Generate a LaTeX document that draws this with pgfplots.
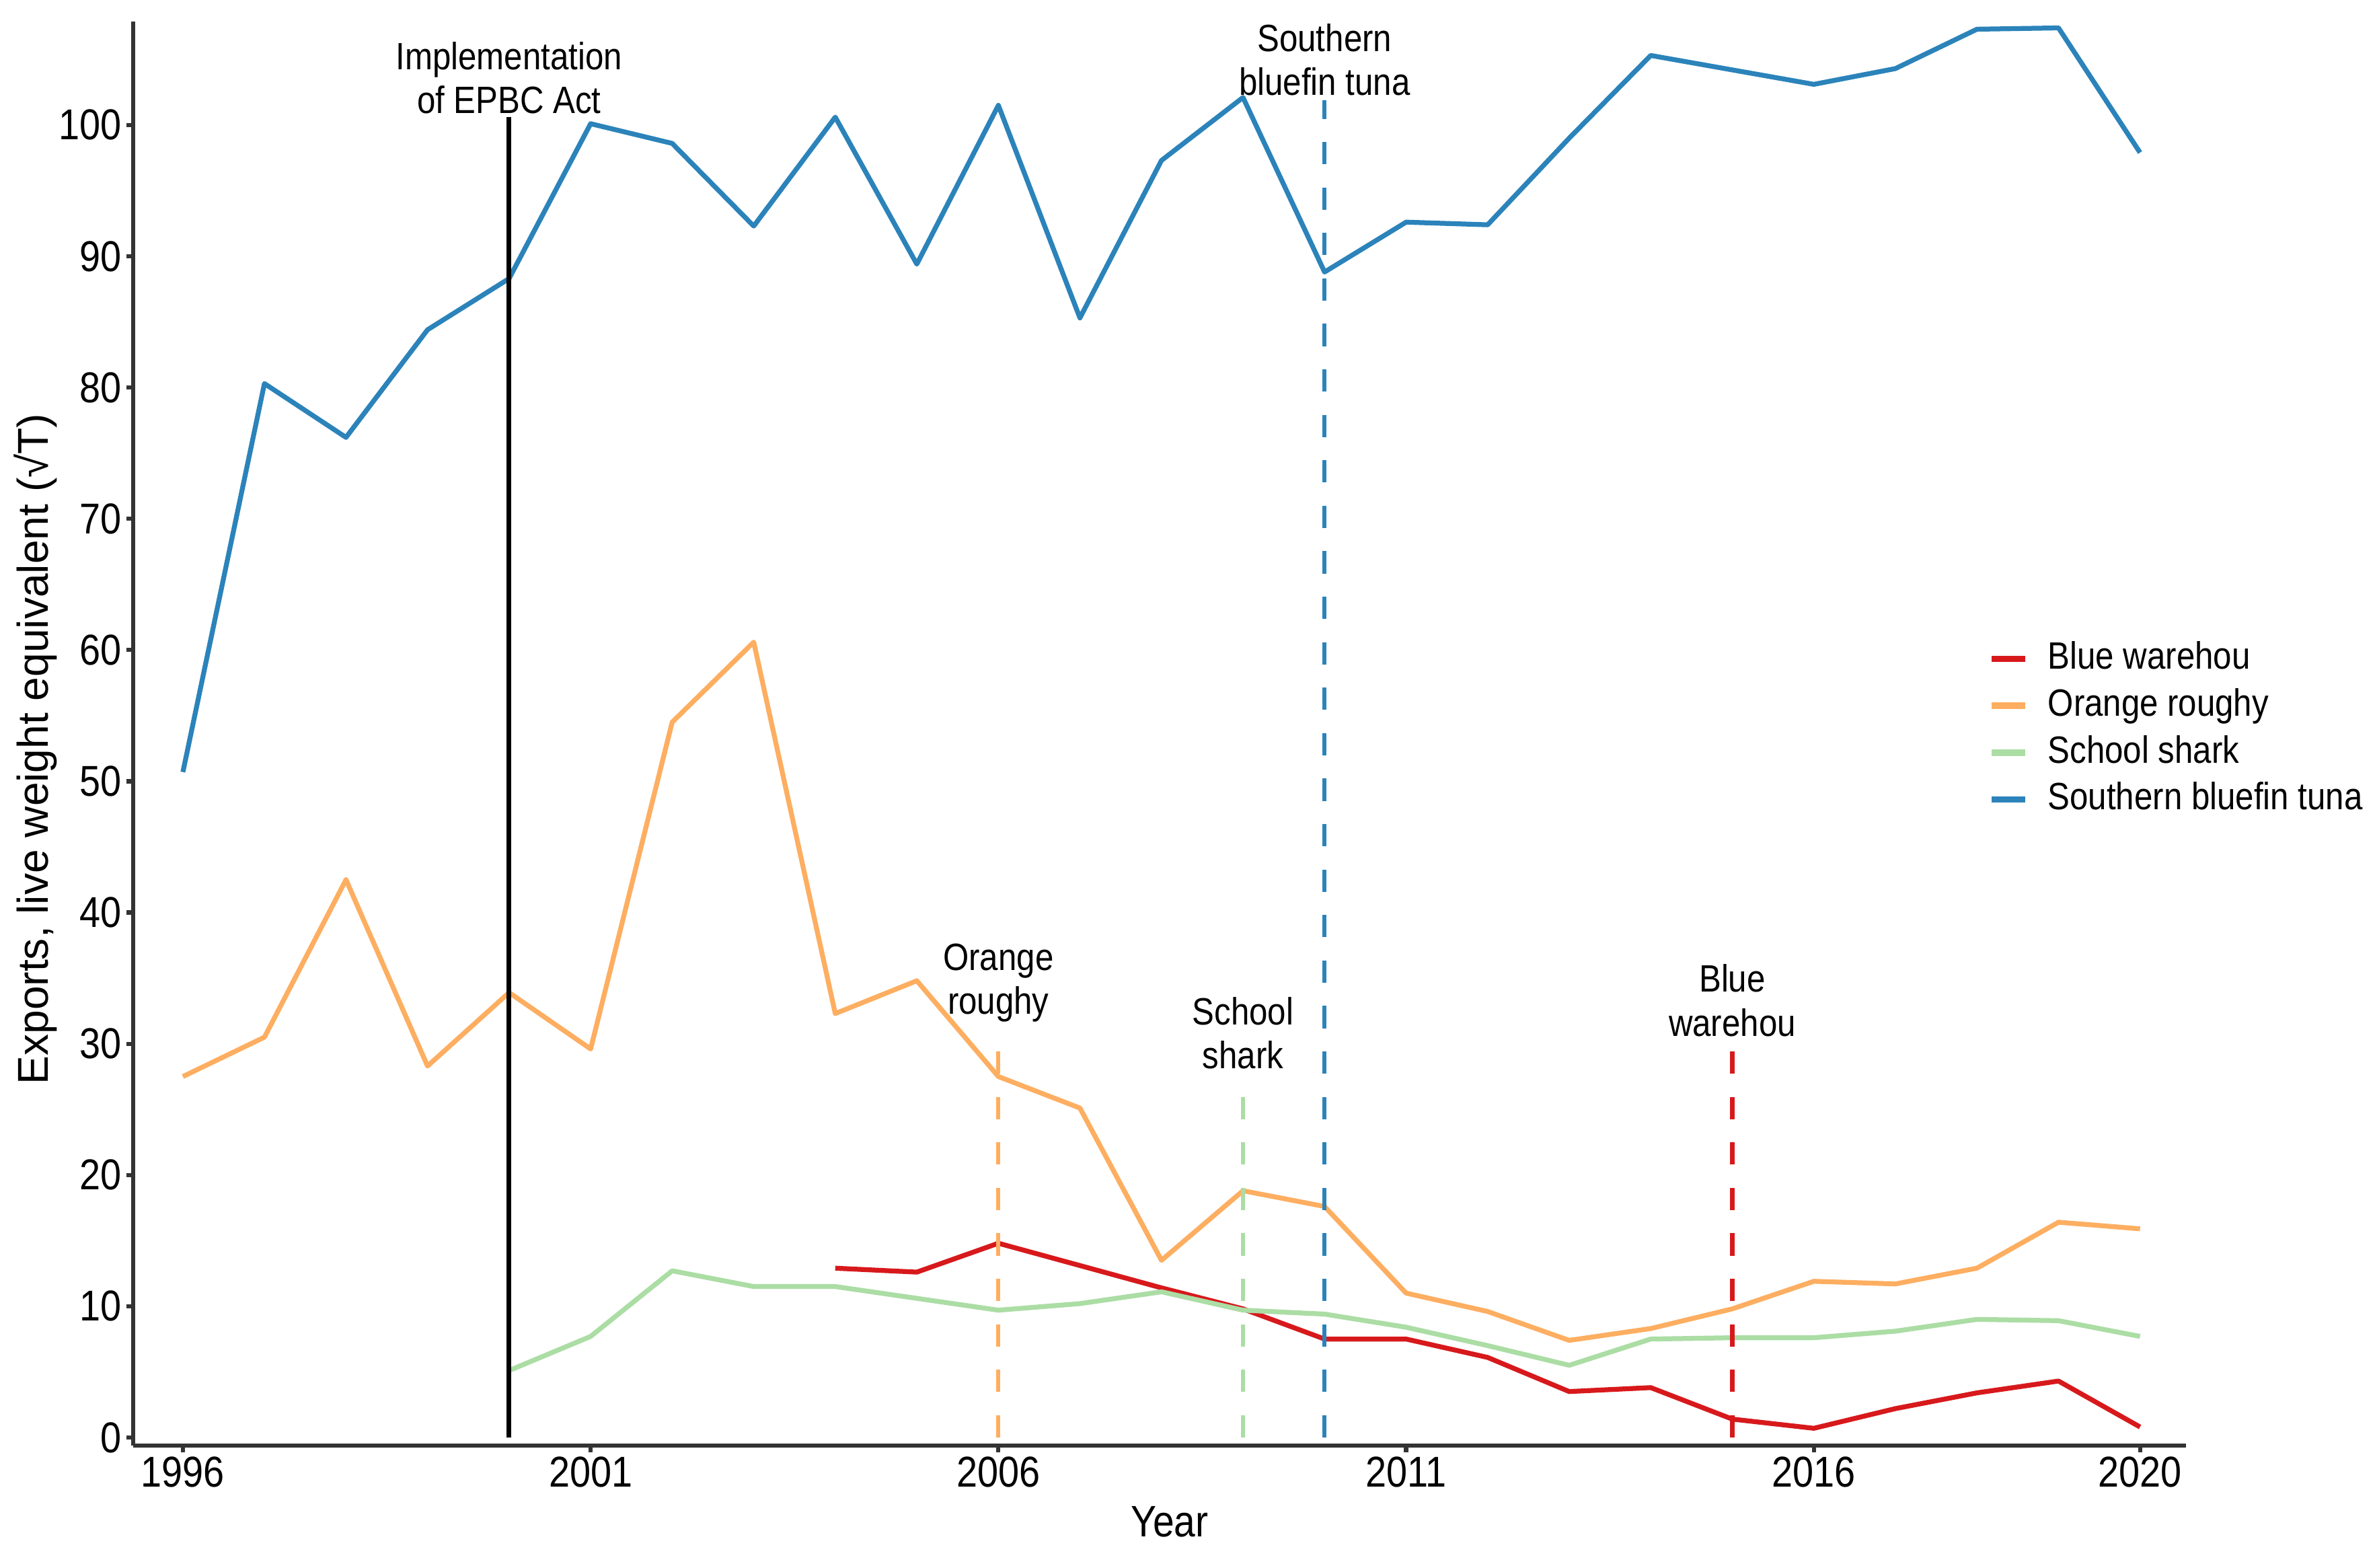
\documentclass[border=0pt]{standalone}
\usepackage{pgfplots}
\pgfplotsset{compat=1.18}
\usepackage{fontspec}
\setmainfont{Liberation Sans}[FakeStretch=0.87]
\newfontfamily\ylabfont{Liberation Sans}

\definecolor{cRed}{HTML}{D7191C}
\definecolor{cOrange}{HTML}{FDAE61}
\definecolor{cGreen}{HTML}{ABDDA4}
\definecolor{cBlue}{HTML}{2B83BA}
\definecolor{axgray}{HTML}{333333}

\newcommand{\lgstrut}{\rule[-1.6pt]{0pt}{7.6pt}}
\tikzset{annot/.style={align=center, inner sep=0pt, font=\fontsize{8.2}{9.45}\selectfont}}

\begin{document}
\begin{tikzpicture}
\begin{axis}[
  scale only axis, width=442.4pt, height=306.9pt,
  xmin=1995.39, xmax=2020.56, ymin=-0.6, ymax=107.9,
  clip=false,
  axis lines=left,
  axis line style={-, line width=0.9pt, color=axgray},
  xtick={1996,2001,2006,2011,2016,2020},
  ytick={0,10,...,100},
  tick align=outside, major tick length=1.5pt,
  tick style={line width=0.9pt, color=axgray},
  /pgf/number format/assume math mode=true,
  /pgf/number format/1000 sep={},
  ticklabel style={font=\fontsize{9.3}{11}\selectfont, inner sep=0.8pt},
  xlabel={Year},
  xlabel style={at={(axis description cs:0.505,-0.042)}, anchor=north,
    inner sep=0pt, font=\fontsize{9.5}{11}\selectfont},
  ylabel={\ylabfont Exports, live weight equivalent (√T)},
  ylabel style={at={(axis description cs:-0.0414,0.489)}, anchor=base,
    inner sep=0pt, font=\fontsize{9.3}{11}\selectfont},
  legend cell align=left,
  legend image code/.code={\draw[#1,line width=1.4pt] (0pt,0pt) -- (7.2pt,0pt);},
  legend style={at={(axis description cs:0.9035,0.503)}, anchor=west,
    draw=none, fill=none, inner sep=0pt, row sep=2.6pt,
    nodes={inner sep=0pt}, font=\fontsize{8.2}{9.4}\selectfont,
    /tikz/every odd column/.append style={column sep=4.2pt}},
  every axis plot/.append style={line width=1.05pt, line join=round},
]

% Blue warehou
\addplot[cRed] coordinates {
(2004,12.9) (2005,12.6) (2006,14.8) (2007,13.1) (2008,11.4) (2009,9.8)
(2010,7.5) (2011,7.5) (2012,6.1) (2013,3.5) (2014,3.8) (2015,1.4)
(2016,0.7) (2017,2.2) (2018,3.4) (2019,4.3) (2020,0.8)
};
\addlegendentry{\lgstrut Blue warehou}

% Orange roughy
\addplot[cOrange] coordinates {
(1996,27.5) (1997,30.5) (1998,42.5) (1999,28.3) (2000,33.9) (2001,29.6)
(2002,54.5) (2003,60.6) (2004,32.3) (2005,34.8) (2006,27.5) (2007,25.1)
(2008,13.5) (2009,18.8) (2010,17.6) (2011,11.0) (2012,9.6) (2013,7.4)
(2014,8.3) (2015,9.8) (2016,11.9) (2017,11.7) (2018,12.9) (2019,16.4)
(2020,15.9)
};
\addlegendentry{\lgstrut Orange roughy}

% School shark
\addplot[cGreen] coordinates {
(2000,5.1) (2001,7.7) (2002,12.7) (2003,11.5) (2004,11.5) (2005,10.6)
(2006,9.7) (2007,10.2) (2008,11.1) (2009,9.7) (2010,9.4) (2011,8.4)
(2012,7.0) (2013,5.5) (2014,7.5) (2015,7.6) (2016,7.6) (2017,8.1)
(2018,9.0) (2019,8.9) (2020,7.7)
};
\addlegendentry{\lgstrut School shark}

% Southern bluefin tuna
\addplot[cBlue] coordinates {
(1996,50.7) (1997,80.3) (1998,76.2) (1999,84.4) (2000,88.3) (2001,100.1)
(2002,98.6) (2003,92.3) (2004,100.6) (2005,89.4) (2006,101.5) (2007,85.3)
(2008,97.3) (2009,102.1) (2010,88.8) (2011,92.6) (2012,92.4) (2013,99.0)
(2014,105.3) (2015,104.2) (2016,103.1) (2017,104.3) (2018,107.3) (2019,107.4)
(2020,97.9)
};
\addlegendentry{\lgstrut Southern bluefin tuna}

% event markers
\addplot[forget plot, black] coordinates {(2000,0) (2000,100.6)};
\addplot[forget plot, cOrange, line width=0.9pt, dash pattern=on 4.8pt off 5pt] coordinates {(2006,0) (2006,30.3)};
\addplot[forget plot, cGreen, line width=0.9pt, dash pattern=on 4.8pt off 5pt] coordinates {(2009,0) (2009,27.3)};
\addplot[forget plot, cBlue, line width=0.9pt, dash pattern=on 4.8pt off 5pt] coordinates {(2010,0) (2010,101.9)};
\addplot[forget plot, cRed, line width=0.9pt, dash pattern=on 4.8pt off 5pt] coordinates {(2015,0) (2015,30.0)};

\node[annot, anchor=north] at (axis cs:2000,106.4) {Implementation\\of EPBC Act};
\node[annot, anchor=north] at (axis cs:2010,107.8) {Southern\\bluefin tuna};
\node[annot, anchor=north] at (axis cs:2006,37.7) {Orange\\roughy};
\node[annot, anchor=north] at (axis cs:2009,33.6) {School\\shark};
\node[annot, anchor=north] at (axis cs:2015,36.1) {Blue\\warehou};

\coordinate (sw) at (rel axis cs:0,0);
\coordinate (ne) at (rel axis cs:1,1);
\end{axis}
\pgfresetboundingbox
\path[use as bounding box] ([shift={(-28.7pt,-26.4pt)}]sw) rectangle ([shift={(40.8pt,4.6pt)}]ne);
\end{tikzpicture}
\end{document}
